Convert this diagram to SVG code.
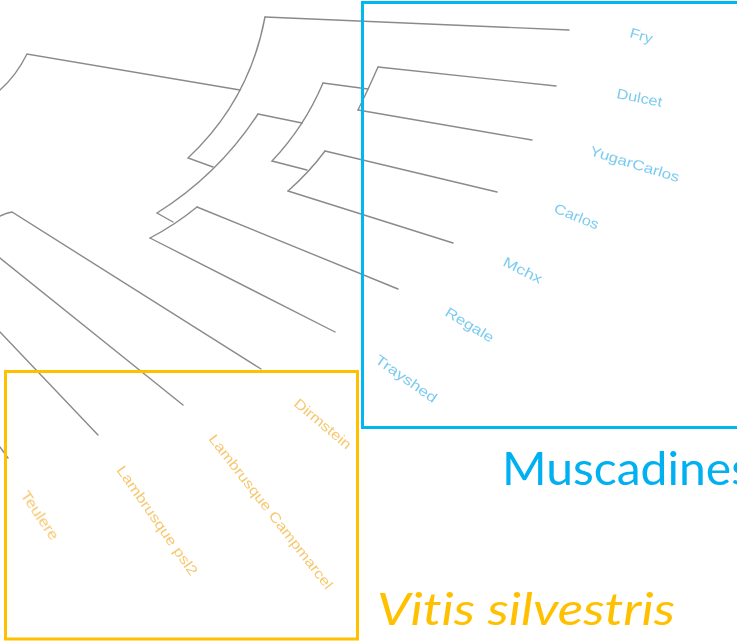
<svg xmlns="http://www.w3.org/2000/svg" width="737" height="642" viewBox="0 0 737 642">
<defs>
<style>
.br{fill:none;stroke:#8a8a8a;stroke-width:1.4;stroke-linecap:round}
.lb{font-family:"Liberation Sans",Arial,sans-serif;font-size:14px;fill:#7ccbf0}
.ly{font-family:"Liberation Sans",Arial,sans-serif;font-size:14px;fill:#f6c870}
.box{fill:none;stroke-width:3}
.big{font-family:Lato,"Open Sans",sans-serif;font-variant-ligatures:none;font-feature-settings:"liga" 0}
</style>
<filter id="soft" x="-10%" y="-10%" width="120%" height="120%"><feGaussianBlur stdDeviation="0.45"/></filter>
</defs>
<rect width="737" height="642" fill="#ffffff"/>
<g id="connectors">
<path class="br" d="M0,90 Q16,76 27,54 L240,90"/>
<path class="br" d="M265,17 Q249.5,100.5 188,158 L213,167"/>
<path class="br" d="M265,17 L569,30"/>
<path class="br" d="M258,114 Q218.5,174.5 157,213 L173,222"/>
<path class="br" d="M258,114 L302,123"/>
<path class="br" d="M323,83 Q304.5,126.8 272,161 L307,170"/>
<path class="br" d="M323,83 L368,89"/>
<path class="br" d="M378,67 Q368,90 358,110"/>
<path class="br" d="M378,67 L556,86"/>
<path class="br" d="M358,110 L532,140"/>
<path class="br" d="M325,151 Q309.5,172 288,191"/>
<path class="br" d="M325,151 L497,192"/>
<path class="br" d="M288,191 L453,243"/>
<path class="br" d="M197,207 Q175,225 150,238"/>
<path class="br" d="M197,207 L398,289"/>
<path class="br" d="M150,238 L335,332"/>
<path class="br" d="M0,216 Q6,213 12,212 L261,369"/>
<path class="br" d="M0,258 L183,405"/>
<path class="br" d="M0,332 L98,435"/>
<path class="br" d="M0,447 L8,458"/>
</g>
<g filter="url(#soft)">
<g id="fry"><text class="lb" transform="translate(629,37) rotate(16)" textLength="23" lengthAdjust="spacingAndGlyphs">Fry</text></g>
<g id="dulcet"><text class="lb" transform="translate(616,98) rotate(11)" textLength="46" lengthAdjust="spacingAndGlyphs">Dulcet</text></g>
<g id="yugarcarlos"><text class="lb" transform="translate(589,155) rotate(17)" textLength="93" lengthAdjust="spacingAndGlyphs">YugarCarlos</text></g>
<g id="carlos"><text class="lb" transform="translate(553,212) rotate(22)" textLength="47" lengthAdjust="spacingAndGlyphs">Carlos</text></g>
<g id="mchx"><text class="lb" transform="translate(502,265) rotate(27)" textLength="42" lengthAdjust="spacingAndGlyphs">Mchx</text></g>
<g id="regale"><text class="lb" transform="translate(444,315) rotate(31)" textLength="54" lengthAdjust="spacingAndGlyphs">Regale</text></g>
<g id="trayshed"><text class="lb" transform="translate(374,362) rotate(35)" textLength="72" lengthAdjust="spacingAndGlyphs">Trayshed</text></g>
<g id="dirmstein"><text class="ly" transform="translate(293,405) rotate(40)" textLength="70" lengthAdjust="spacingAndGlyphs">Dirmstein</text></g>
<g id="lambrusque-campmarcel"><text class="ly" transform="translate(208,439) rotate(52)" textLength="192" lengthAdjust="spacingAndGlyphs">Lambrusque Campmarcel</text></g>
<g id="lambrusque-psl2"><text class="ly" transform="translate(116,470) rotate(55)" textLength="130" lengthAdjust="spacingAndGlyphs">Lambrusque psl2</text></g>
<g id="teulere"><text class="ly" transform="translate(20,495) rotate(56)" textLength="56" lengthAdjust="spacingAndGlyphs">Teulere</text></g>
</g>
<g id="muscadines-box">
<rect class="box" x="362.5" y="2.5" width="390" height="425" stroke="#00b8f0"/>
</g>
<g id="silvestris-box">
<rect class="box" x="5.5" y="371.5" width="352" height="267.5" stroke="#ffc000"/>
</g>
<g id="muscadines-label">
<text class="big" x="502" y="485" font-size="47" fill="#00b0f0" textLength="250" lengthAdjust="spacingAndGlyphs">Muscadines</text>
</g>
<g id="silvestris-label">
<text class="big" x="377" y="625" font-size="45" font-style="italic" fill="#ffc000" textLength="298" lengthAdjust="spacingAndGlyphs">Vitis silvestris</text>
</g>
</svg>
